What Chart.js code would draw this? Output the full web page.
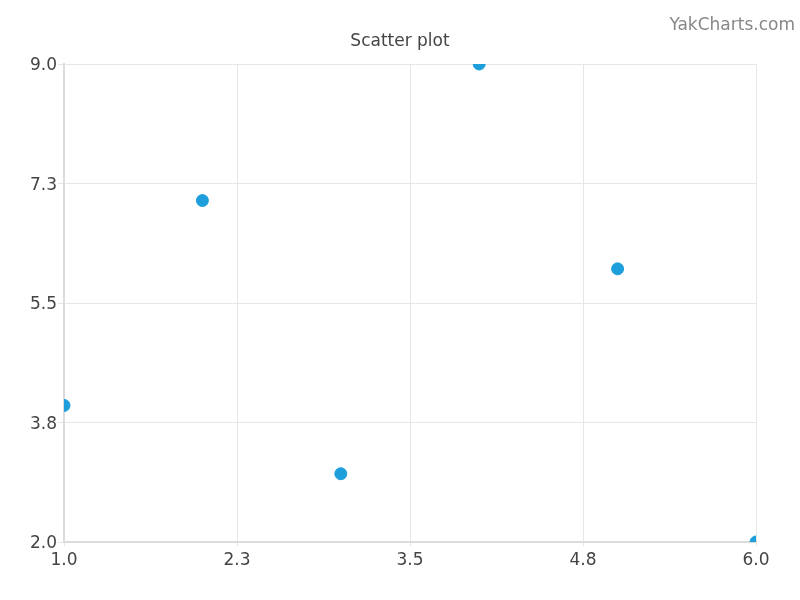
<!DOCTYPE html>
<html>
<head>
<meta charset="utf-8">
<script src="https://cdn.jsdelivr.net/npm/chart.js@4/dist/chart.umd.min.js"></script>
<style>
html,body{margin:0;padding:0;background:#fff;}
#wrap{width:800px;height:600px;position:relative;}
</style>
</head>
<body>
<div id="wrap"><canvas id="c" width="800" height="600"></canvas></div>
<script>
const xValues = [1, 2, 3, 4, 5, 6];
const yValues = [4, 7, 3, 9, 6, 2];
const xTicks = [1.0, 2.25, 3.5, 4.75, 6.0];
const yTicks = [2.0, 3.75, 5.5, 7.25, 9.0];
const chartTitle = "Scatter plot";
const watermark = "YakCharts.com";

const points = xValues.map((x, i) => ({x: x, y: yValues[i]}));

Chart.defaults.font.family = 'DejaVu Sans';

const textPlugin = {
  id: 'texts',
  afterDraw(chart) {
    const ctx = chart.ctx;
    ctx.save();
    ctx.font = '17px DejaVu Sans';
    ctx.fillStyle = '#444';
    ctx.textAlign = 'center';
    ctx.textBaseline = 'alphabetic';
    ctx.fillText(chartTitle, 400, 46);
    ctx.fillStyle = '#888';
    ctx.textAlign = 'right';
    ctx.fillText(watermark, 795, 30);
    ctx.restore();
  }
};

new Chart(document.getElementById('c'), {
  type: 'scatter',
  data: {
    datasets: [{
      data: points,
      backgroundColor: '#1e9fdc',
      borderColor: '#1e9fdc',
      pointRadius: 6,
      pointHoverRadius: 6,
      clip: 0
    }]
  },
  options: {
    responsive: false,
    animation: false,
    events: [],
    layout: {padding: {top: 64, right: 44, bottom: 0, left: 0}},
    plugins: {legend: {display: false}, tooltip: {enabled: false}, title: {display: false}},
    scales: {
      x: {
        type: 'linear',
        min: 1, max: 6,
        afterBuildTicks: (s) => { s.ticks = xTicks.map(v => ({value: v})); },
        afterFit: (s) => { s.height = 58; },
        ticks: {
          font: {family: 'DejaVu Sans', size: 17},
          color: '#444',
          padding: 4,
          maxRotation: 0,
          callback: (v) => Number(v).toFixed(1)
        },
        grid: {color: '#e6e6e6', tickLength: 4},
        border: {color: '#dcdcdc', width: 2}
      },
      y: {
        type: 'linear',
        min: 2, max: 9,
        afterBuildTicks: (s) => { s.ticks = yTicks.map(v => ({value: v})); },
        afterFit: (s) => { s.width = 64; },
        ticks: {
          font: {family: 'DejaVu Sans', size: 17},
          color: '#444',
          padding: 1,
          labelOffset: 2,
          callback: (v) => Number(v).toFixed(1)
        },
        grid: {color: '#e6e6e6', tickLength: 6},
        border: {color: '#dcdcdc', width: 2}
      }
    }
  },
  plugins: [textPlugin]
});
</script>
</body>
</html>
